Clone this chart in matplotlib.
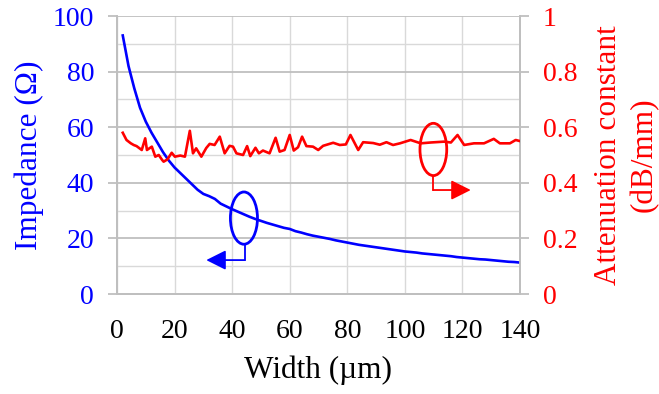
import matplotlib
matplotlib.use("Agg")
import matplotlib.pyplot as plt
from matplotlib.patches import Ellipse

# ---------------- data ----------------
width_um = [2, 4, 6, 8, 10, 12, 14, 16, 18, 20, 22, 24, 26, 28, 30, 32, 34, 36, 38, 40,
            42, 44, 46, 48, 50, 52, 54, 56, 58, 60, 62, 64, 66, 68, 70, 72, 74, 76, 78, 80,
            82, 84, 86, 88, 90, 92, 94, 96, 98, 100, 102, 104, 106, 108, 110, 112, 114, 116,
            118, 120, 122, 124, 126, 128, 130, 132, 134, 136, 138, 140]
impedance = [93, 82, 74, 67, 62, 58, 54.5, 51, 48, 45.5, 43.5, 41.5, 39.5, 37.5, 36, 35.2,
             34.2, 32.5, 31.5, 30.5, 29.6, 28.7, 27.8, 27, 26.3, 25.6, 25, 24.4, 23.8, 23.4,
             22.6, 22.1, 21.5, 21, 20.6, 20.2, 19.8, 19.3, 18.9, 18.5, 18.1, 17.7, 17.4,
             17.1, 16.8, 16.5, 16.2, 15.9, 15.6, 15.3, 15.1, 14.9, 14.6, 14.4, 14.2, 14.0,
             13.8, 13.6, 13.3, 13.1, 12.9, 12.7, 12.5, 12.4, 12.2, 12.0, 11.8, 11.6, 11.5, 11.3]

att_width = [2, 3.3, 4.8, 5.8, 6.8, 8.6, 9.8, 10.4, 12.1, 13.3, 14.5, 15.7, 16.2, 17.5, 19,
             20.1, 22, 23.6, 25.3, 26.4, 27.5, 29.3, 31, 32.2, 33.9, 35.7, 37.4, 39.1, 40.3,
             41.5, 43.8, 45.2, 46.3, 48.1, 49.3, 50.7, 53, 55.1, 56.5, 58.2, 60, 61.4, 62.9,
             64.3, 65.8, 68.1, 69.9, 71.6, 75.1, 77.4, 79.5, 81.1, 83.8, 85.5, 89, 91.3,
             93.6, 95.9, 98.3, 102, 105.5, 109, 113.6, 116, 118.3, 120.6, 124, 127.5,
             130.9, 133, 136.5, 138.5, 140]
attenuation = [0.580, 0.554, 0.542, 0.536, 0.532, 0.518, 0.560, 0.518, 0.530, 0.494, 0.500,
               0.482, 0.476, 0.484, 0.508, 0.494, 0.498, 0.494, 0.587, 0.506, 0.524, 0.494,
               0.525, 0.540, 0.536, 0.566, 0.506, 0.533, 0.530, 0.506, 0.500, 0.532, 0.496,
               0.526, 0.506, 0.516, 0.506, 0.562, 0.512, 0.518, 0.572, 0.516, 0.528, 0.566,
               0.532, 0.530, 0.518, 0.533, 0.544, 0.536, 0.538, 0.572, 0.518, 0.546, 0.543,
               0.537, 0.546, 0.536, 0.542, 0.554, 0.542, 0.545, 0.548, 0.545, 0.572, 0.536,
               0.542, 0.542, 0.558, 0.542, 0.542, 0.554, 0.550]

x_ticks = [0, 20, 40, 60, 80, 100, 120, 140]
left_ticks = [0, 20, 40, 60, 80, 100]
right_ticks = [0, 0.2, 0.4, 0.6, 0.8, 1.0]
right_ticklabels = ["0", "0.2", "0.4", "0.6", "0.8", "1"]

BLUE = "#0000FF"
RED = "#FF0000"
GRID_MAJ = "#BFBFBF"
GRID_MIN = "#D9D9D9"

plt.rcParams['font.family'] = ['Liberation Serif', 'DejaVu Serif']
FS = 20
LFS = 22.5

fig = plt.figure(figsize=(6.59, 3.94), dpi=100)
ax = fig.add_axes([117 / 659, 1 - 294 / 394, (520 - 117) / 659, (294 - 16) / 394])
ax2 = ax.twinx()

ax.set_xlim(0, 140)
ax.set_ylim(0, 100)
ax2.set_ylim(0, 1)

# grid
ax.set_axisbelow(True)
ax.set_yticks(left_ticks)
ax.set_yticks([10, 30, 50, 70, 90], minor=True)
ax.set_xticks(x_ticks)
ax.yaxis.grid(True, which='major', color=GRID_MAJ, lw=1.3)
ax.yaxis.grid(True, which='minor', color=GRID_MIN, lw=1.0)
ax.xaxis.grid(True, which='major', color=GRID_MIN, lw=1.0)

ax.plot(width_um, impedance, color=BLUE, lw=1.9, zorder=3)
ax2.plot(att_width, attenuation, color=RED, lw=1.9, zorder=3)

# spines
for a in (ax, ax2):
    a.spines['top'].set_visible(False)
    for s in ('left', 'right', 'bottom'):
        a.spines[s].set_color(GRID_MAJ)
        a.spines[s].set_linewidth(1.3)

ax.tick_params(axis='y', which='major', direction='out', length=6.5, width=1.3,
               color=GRID_MAJ, labelcolor=BLUE, labelsize=FS, pad=10)
ax.tick_params(axis='y', which='minor', length=0)
ax.tick_params(axis='x', length=0, labelsize=FS, pad=18, labelcolor='black')
ax2.set_yticks(right_ticks)
ax2.set_yticklabels(right_ticklabels)
ax2.tick_params(axis='y', direction='out', length=6.5, width=1.3, color=GRID_MAJ,
                labelcolor=RED, labelsize=FS, pad=10)

ax.set_xlabel("Width (\u00b5m)", fontsize=LFS, labelpad=8)
ax.set_ylabel("Impedance (\u03a9)", fontsize=LFS, color=BLUE, labelpad=6)
ax2.set_ylabel("Attenuation constant\n(dB/mm)", fontsize=LFS, color=RED, labelpad=12,
               linespacing=1.3)

# annotation: blue ellipse + arrow to the left
ax.add_patch(Ellipse((44.1, 27.3), 9.4, 18.8, fill=False, ec=BLUE, lw=2.0, zorder=4))
ax.plot([44.3, 44.3], [17.9, 12.2], color=BLUE, lw=1.3, zorder=4)
ax.annotate("", xy=(31.0, 12.2), xytext=(44.3, 12.2),
            arrowprops=dict(arrowstyle='-|>,head_length=1.2,head_width=0.6',
                            color=BLUE, lw=1.3, mutation_scale=10,
                            shrinkA=0, shrinkB=0), zorder=4)

# annotation: red ellipse + arrow to the right
ax2.add_patch(Ellipse((109.9, 0.52), 9.3, 0.188, fill=False, ec=RED, lw=2.0, zorder=4))
ax2.plot([109.9, 109.9], [0.426, 0.374], color=RED, lw=1.3, zorder=4)
ax2.annotate("", xy=(122.9, 0.374), xytext=(109.9, 0.374),
             arrowprops=dict(arrowstyle='-|>,head_length=1.2,head_width=0.6',
                             color=RED, lw=1.3, mutation_scale=10,
                             shrinkA=0, shrinkB=0), zorder=4)

fig.savefig("out.png", dpi=100)
